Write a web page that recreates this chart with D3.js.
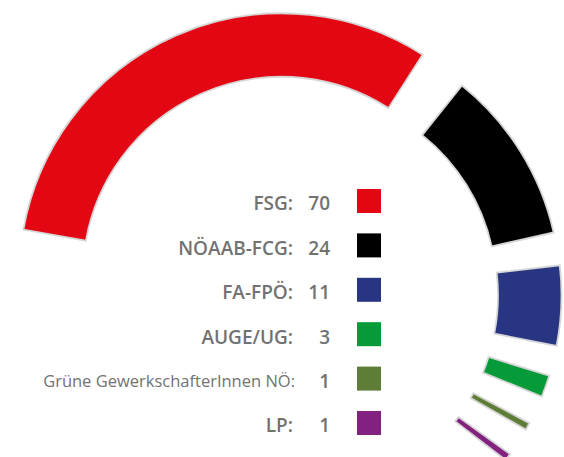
<!DOCTYPE html>
<html>
<head>
<meta charset="utf-8">
<script src="https://cdn.jsdelivr.net/npm/d3@7"></script>
<style>
  html, body { margin: 0; padding: 0; background: #ffffff; }
  svg { display: block; }
</style>
</head>
<body>
<div id="chart"></div>
<script>
// ---- data ----
const parties = ["FSG", "NÖAAB-FCG", "FA-FPÖ", "AUGE/UG", "Grüne GewerkschafterInnen NÖ", "LP"];
const seats = [70, 24, 11, 3, 1, 1];
const colors = ["#e30613", "#000000", "#283583", "#079a38", "#5e7e37", "#82217f"];

// ---- layout ----
const W = 564, H = 457;
const cx = 290, cy = 295;
const innerR = 198.5, outerR = 262;
const deg = Math.PI / 180;
const baseOffset = 9.5, leaderOffset = 21.5;

const svg = d3.select("#chart").append("svg")
  .attr("width", W).attr("height", H);

const rows = parties.map((p, i) => ({ party: p, seats: seats[i], color: colors[i], index: i }));

const pie = d3.pie()
  .value(d => d.seats)
  .sort(null)
  .startAngle(-83 * deg)
  .endAngle(130.5 * deg)
  .padAngle(6.1 * deg);

const arcs = pie(rows);

const arc = d3.arc()
  .innerRadius(innerR)
  .outerRadius(outerR)
  .padAngle(0)
  .startAngle(d => d.startAngle + d.padAngle / 2)
  .endAngle(d => d.endAngle - d.padAngle / 2);

const g = svg.append("g");
g.selectAll("path")
  .data(arcs)
  .join("path")
  .attr("d", arc)
  .attr("fill", d => d.data.color)
  .attr("stroke", "#d6d6d6")
  .attr("stroke-width", 1.8)
  .attr("stroke-linejoin", "miter")
  .attr("transform", d => {
    const mid = (d.startAngle + d.endAngle) / 2;
    const off = d.index === 0 ? leaderOffset : baseOffset;
    return `translate(${cx + off * Math.sin(mid)},${cy - off * Math.cos(mid)})`;
  });

// ---- legend ----
const y = d3.scalePoint().domain(parties).range([201, 423]);
const labelX = 293, numX = 330, swX = 357, sw = 24;

const leg = svg.append("g")
  .attr("font-family", "'Open Sans', sans-serif")
  .attr("fill", "#727272");

const item = leg.selectAll("g.item")
  .data(rows)
  .join("g")
  .attr("class", "item")
  .attr("transform", d => `translate(0,${y(d.party)})`);

const isLong = d => d.party.length > 20;

item.append("text")
  .attr("x", d => isLong(d) ? labelX + 2 : labelX)
  .attr("y", d => isLong(d) ? 8.6 : 9.3)
  .attr("text-anchor", "end")
  .attr("font-size", d => isLong(d) ? 16.5 : 19)
  .attr("font-weight", d => isLong(d) ? 500 : 600)
  .text(d => d.party + ":");

item.append("text")
  .attr("x", numX)
  .attr("y", 9.3)
  .attr("text-anchor", "end")
  .attr("font-size", 19)
  .attr("font-weight", 600)
  .text(d => d.seats);

item.append("rect")
  .attr("x", swX)
  .attr("y", -sw / 2)
  .attr("width", sw)
  .attr("height", sw)
  .attr("fill", d => d.color);
</script>
</body>
</html>
